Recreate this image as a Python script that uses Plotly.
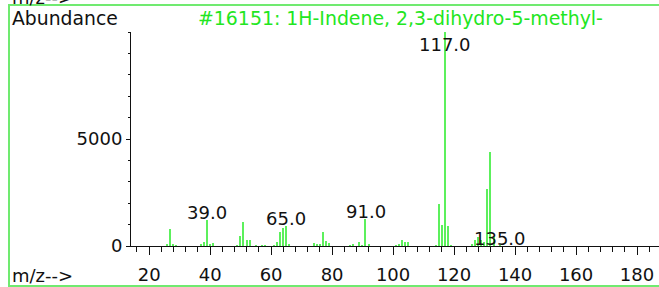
import plotly.graph_objects as go

# m/z values and abundances
mz = [26, 27, 28, 29, 37, 38, 39, 40, 41, 49, 50, 51, 52, 53, 55, 57, 58,
      61, 62, 63, 64, 65, 66, 74, 75, 76, 77, 78, 79, 86, 87, 89, 90, 91, 92,
      101, 102, 103, 104, 105, 114, 115, 116, 117, 118, 119,
      126, 127, 128, 129, 130, 131, 132, 133, 135]
abundance = [110, 780, 80, 40, 50, 190, 1200, 95, 140, 30, 450, 1120, 270, 300, 30, 30, 40,
             30, 190, 650, 860, 920, 50, 140, 110, 80, 670, 230, 140, 40, 50, 190, 30, 1260, 110,
             30, 110, 270, 190, 190, 40, 1950, 980, 10000, 950, 40,
             50, 270, 440, 300, 200, 2650, 4400, 420, 20]

label_mz = [39, 65, 91, 117, 135]
label_y = [1200, 920, 1260, 9060, 0]
label_text = ["39.0", "65.0", "91.0", "117.0", "135.0"]

x_ticks = [20, 40, 60, 80, 100, 120, 140, 160, 180]
y_ticks = [0, 5000]

title_text = "#16151: 1H-Indene, 2,3-dihydro-5-methyl-"

FONT = "DejaVu Sans"
GREEN = "#22e622"
BAR = "#5cf05c"
BORDER = "#70ea70"

W, H = 659, 287
L, R, T, B = 131, 0, 32, 41
pw = W - L - R
ph = H - T - B


def px_x(p):
    return (p - L) / pw


def px_y(p):
    return (H - B - p) / ph


fig = go.Figure()
fig.add_trace(go.Bar(x=mz, y=abundance, width=0.45,
                     marker=dict(color=BAR, line=dict(width=0)),
                     hoverinfo="x+y"))

annotations = []
for xm, ym, t in zip(label_mz, label_y, label_text):
    annotations.append(dict(x=xm, y=ym, xref="x", yref="y", text=t, showarrow=False,
                            xanchor="center", yanchor="bottom", borderpad=0, yshift=-4,
                            font=dict(family=FONT, size=18, color="#111111")))

annotations += [
    dict(x=px_x(10), y=px_y(18), xref="paper", yref="paper", text="Abundance",
         showarrow=False, xanchor="left", yanchor="middle",
         font=dict(family=FONT, size=18.8, color="#111111")),
    dict(x=px_x(196), y=px_y(18), xref="paper", yref="paper", text=title_text,
         showarrow=False, xanchor="left", yanchor="middle",
         font=dict(family=FONT, size=18.9, color=GREEN)),
    dict(x=px_x(10), y=px_y(275), xref="paper", yref="paper", text="m/z-->",
         showarrow=False, xanchor="left", yanchor="middle",
         font=dict(family=FONT, size=18, color="#111111")),
    dict(x=px_x(10), y=px_y(-3), xref="paper", yref="paper", text="m/z-->",
         showarrow=False, xanchor="left", yanchor="middle",
         font=dict(family=FONT, size=18, color="#111111")),
]

fig.add_shape(type="rect", xref="paper", yref="paper",
              x0=px_x(9), x1=px_x(665), y0=px_y(286), y1=px_y(5),
              line=dict(color=BORDER, width=2), fillcolor="rgba(0,0,0,0)")

fig.update_layout(
    width=W, height=H,
    margin=dict(l=L, r=R, t=T, b=B, pad=0),
    paper_bgcolor="white", plot_bgcolor="white",
    showlegend=False, bargap=0,
    annotations=annotations,
    font=dict(family=FONT, size=18, color="#111111"),
)
fig.update_xaxes(range=[14.05, 187.2], tickvals=x_ticks, ticktext=[str(v) for v in x_ticks],
                 ticks="outside", ticklen=8, tickwidth=1, tickcolor="#111111",
                 showline=True, linecolor="#111111", linewidth=1,
                 showgrid=False, zeroline=False, ticklabelstandoff=4,
                 tickfont=dict(family=FONT, size=18, color="#111111"),
                 minor=dict(dtick=4, tick0=0, ticks="outside", ticklen=5,
                            tickcolor="#111111", tickwidth=1, showgrid=False))
fig.update_yaxes(range=[0, 10000], tickvals=y_ticks, ticktext=["0", "5000"],
                 ticks="outside", ticklen=4, tickwidth=1, tickcolor="#111111",
                 showline=True, linecolor="#111111", linewidth=1,
                 showgrid=False, zeroline=False,
                 tickfont=dict(family=FONT, size=18, color="#111111"),
                 minor=dict(dtick=1000, tick0=0, ticks="outside", ticklen=2,
                            tickcolor="#111111", tickwidth=1, showgrid=False))

fig.write_html("out.html", config={"displayModeBar": False},
               post_script="document.body.style.margin='0px';")
